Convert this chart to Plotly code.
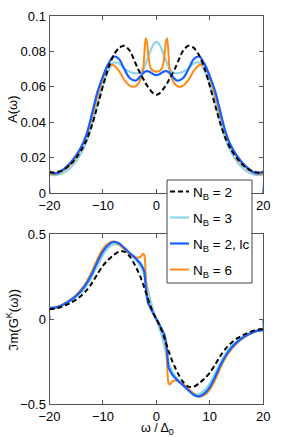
import plotly.graph_objects as go

# ---------------- data ----------------
omega = [-20, -19, -18, -17, -16, -15, -14, -13, -12, -11, -10, -9, -8, -7, -6, -5, -4,
         -3.5, -3, -2.5, -2.25, -2, -1.75, -1.5, -1.25, -1, -0.5, 0,
         0.5, 1, 1.25, 1.5, 1.75, 2, 2.25, 2.5, 3, 3.5,
         4, 5, 6, 7, 8, 9, 10, 11, 12, 13, 14, 15, 16, 17, 18, 19, 20]

omega_lc = [-20, -19.97, -19, -18, -17, -16, -15, -14, -13, -12, -11, -10, -9, -8, -7, -6, -5, -4,
            -3.5, -3, -2.5, -2.25, -2, -1.75, -1.5, -1.25, -1, -0.5, 0,
            0.5, 1, 1.25, 1.5, 1.75, 2, 2.25, 2.5, 3, 3.5,
            4, 5, 6, 7, 8, 9, 10, 11, 12, 13, 14, 15, 16, 17, 18, 19, 19.97, 20]

# spectral function A(omega)
A_nb2 = [0.0118, 0.0118, 0.0125, 0.0140, 0.0165, 0.0200, 0.0245, 0.0305, 0.0390, 0.0495, 0.0605,
         0.0705, 0.0778, 0.0820, 0.0832, 0.0805, 0.0740, 0.0705, 0.0675, 0.0648, 0.0634, 0.0620,
         0.0608, 0.0597, 0.0587, 0.0577, 0.0562, 0.0556,
         0.0562, 0.0577, 0.0587, 0.0597, 0.0608, 0.0620, 0.0634, 0.0648, 0.0675, 0.0705, 0.0740,
         0.0805, 0.0832, 0.0820, 0.0778, 0.0705, 0.0605, 0.0495, 0.0390, 0.0305, 0.0245, 0.0200,
         0.0165, 0.0140, 0.0125, 0.0118, 0.0118]
A_nb3 = [0.0105, 0.0102, 0.0108, 0.0122, 0.0147, 0.0182, 0.0230, 0.0297, 0.0395, 0.0510, 0.0612,
         0.0690, 0.0738, 0.0732, 0.0705, 0.0686, 0.0677, 0.0677, 0.0685, 0.0702, 0.0715, 0.0732,
         0.0752, 0.0772, 0.0792, 0.0812, 0.0843, 0.0855,
         0.0843, 0.0812, 0.0792, 0.0772, 0.0752, 0.0732, 0.0715, 0.0702, 0.0685, 0.0677, 0.0677,
         0.0686, 0.0705, 0.0732, 0.0738, 0.0690, 0.0612, 0.0510, 0.0395, 0.0297, 0.0230, 0.0182,
         0.0147, 0.0122, 0.0108, 0.0102, 0.0105]
A_lc = [0.0, 0.0120, 0.0112, 0.0122, 0.0145, 0.0175, 0.0215, 0.0265, 0.0340, 0.0455, 0.0575, 0.0660,
        0.0730, 0.0772, 0.0757, 0.0700, 0.0650, 0.0635, 0.0643, 0.0660, 0.0677, 0.0683, 0.0688,
        0.0689, 0.0688, 0.0685, 0.0680, 0.0670, 0.0667,
        0.0670, 0.0680, 0.0685, 0.0688, 0.0689, 0.0688, 0.0683, 0.0677, 0.0660, 0.0643, 0.0635,
        0.0650, 0.0700, 0.0757, 0.0772, 0.0730, 0.0660, 0.0575, 0.0455, 0.0340, 0.0265, 0.0215,
        0.0175, 0.0145, 0.0122, 0.0112, 0.0120, 0.0]
A_nb6 = [0.0112, 0.0108, 0.0118, 0.0138, 0.0165, 0.0205, 0.0258, 0.0330, 0.0435, 0.0550, 0.0648,
         0.0722, 0.0722, 0.0690, 0.0640, 0.0607, 0.0602, 0.0615, 0.0640, 0.0690, 0.0790, 0.0874,
         0.0850, 0.0775, 0.0725, 0.0703, 0.0689, 0.0686,
         0.0689, 0.0703, 0.0725, 0.0775, 0.0850, 0.0874, 0.0790, 0.0690, 0.0640, 0.0615, 0.0602,
         0.0607, 0.0640, 0.0690, 0.0722, 0.0722, 0.0648, 0.0550, 0.0435, 0.0330, 0.0258, 0.0205,
         0.0165, 0.0138, 0.0118, 0.0108, 0.0112]

# Keldysh component Im G^K(omega)
G_nb2 = [0.058, 0.062, 0.070, 0.082, 0.097, 0.115, 0.140, 0.172, 0.215, 0.268, 0.315, 0.350, 0.378,
         0.398, 0.398, 0.370, 0.318, 0.285, 0.250, 0.207, 0.185, 0.160, 0.138, 0.113, 0.090, 0.068,
         0.030, 0.0,
         -0.030, -0.068, -0.090, -0.113, -0.138, -0.160, -0.185, -0.207, -0.250, -0.285, -0.318,
         -0.370, -0.398, -0.398, -0.378, -0.350, -0.315, -0.268, -0.215, -0.172, -0.140, -0.115,
         -0.097, -0.082, -0.070, -0.062, -0.058]
G_nb3 = [0.062, 0.066, 0.075, 0.090, 0.108, 0.131, 0.161, 0.202, 0.255, 0.318, 0.378, 0.420, 0.440,
         0.438, 0.415, 0.385, 0.355, 0.335, 0.312, 0.280, 0.255, 0.225, 0.193, 0.160, 0.128, 0.098,
         0.045, 0.0,
         -0.045, -0.098, -0.128, -0.160, -0.193, -0.225, -0.255, -0.280, -0.312, -0.335, -0.355,
         -0.385, -0.415, -0.438, -0.440, -0.420, -0.378, -0.318, -0.255, -0.202, -0.161, -0.131,
         -0.108, -0.090, -0.075, -0.066, -0.062]
G_lc = [0.0, 0.064, 0.068, 0.078, 0.094, 0.113, 0.138, 0.170, 0.214, 0.270, 0.340, 0.400, 0.437,
        0.455, 0.447, 0.420, 0.390, 0.362, 0.346, 0.328, 0.300, 0.280, 0.188, 0.125, 0.091, 0.075,
        0.058, 0.028, 0.0,
        -0.028, -0.058, -0.075, -0.091, -0.125, -0.188, -0.280, -0.300, -0.328, -0.346, -0.362,
        -0.390, -0.420, -0.447, -0.455, -0.437, -0.400, -0.340, -0.270, -0.214, -0.170, -0.138,
        -0.113, -0.094, -0.078, -0.068, -0.064, 0.0]
G_nb6 = [0.063, 0.068, 0.079, 0.096, 0.117, 0.143, 0.178, 0.224, 0.285, 0.357, 0.415, 0.447, 0.457,
         0.440, 0.410, 0.383, 0.365, 0.362, 0.367, 0.385, 0.375, 0.260, 0.150, 0.100, 0.080, 0.062,
         0.030, 0.0,
         -0.030, -0.062, -0.080, -0.100, -0.150, -0.260, -0.375, -0.385, -0.367, -0.362, -0.365,
         -0.383, -0.410, -0.440, -0.457, -0.447, -0.415, -0.357, -0.285, -0.224, -0.178, -0.143,
         -0.117, -0.096, -0.079, -0.068, -0.063]

labels = ["N<sub>B</sub> = 2", "N<sub>B</sub> = 3", "N<sub>B</sub> = 2, lc", "N<sub>B</sub> = 6"]
x_ticks = [-20, -10, 0, 10, 20]
A_ticks = [0, 0.02, 0.04, 0.06, 0.08, 0.1]
G_ticks = [-0.5, 0, 0.5]

# ---------------- style ----------------
C_BLACK = "#000000"
C_LIGHT = "#8fd4ea"
C_BLUE = "#1660ff"
C_ORANGE = "#ff8a16"
FONT = "Liberation Sans, Arial, Helvetica, sans-serif"
W, H = 291, 437
DASH = "5px,3px"

fig = go.Figure()

# (label idx, x, A, G, color, dash, width) in drawing order
series = [
    (1, omega, A_nb3, G_nb3, C_LIGHT, "solid", 2.2),
    (3, omega, A_nb6, G_nb6, C_ORANGE, "solid", 2.0),
    (2, omega_lc, A_lc, G_lc, C_BLUE, "solid", 2.2),
    (0, omega, A_nb2, G_nb2, C_BLACK, DASH, 2.0),
]
for idx, xs, ya, yg, col, dash, wd in series:
    ln = dict(color=col, width=wd, dash=dash, shape="spline", smoothing=0.8)
    fig.add_trace(go.Scatter(x=xs, y=ya, mode="lines", name=labels[idx], line=ln,
                             xaxis="x", yaxis="y", showlegend=False))
    fig.add_trace(go.Scatter(x=xs, y=yg, mode="lines", name=labels[idx], line=ln,
                             xaxis="x2", yaxis="y2", showlegend=False))

x0, x1 = 49.5 / W, 263.3 / W
axis_common = dict(showgrid=False, zeroline=False, showline=True, linecolor="#555555", linewidth=1,
                   mirror="ticks", ticks="inside", ticklen=4, tickcolor="#555555",
                   tickfont=dict(family=FONT, size=13, color="#000000"))

fig.update_layout(
    width=W, height=H,
    margin=dict(l=0, r=0, t=0, b=0, autoexpand=False),
    paper_bgcolor="white", plot_bgcolor="white",
    font=dict(family=FONT, size=13, color="#000000"),
    xaxis=dict(domain=[x0, x1], range=[-20, 20], tickvals=x_ticks, anchor="y", **axis_common),
    yaxis=dict(domain=[1 - 193.3 / H, 1 - 16 / H], range=[0, 0.1], tickvals=A_ticks, anchor="x",
               **axis_common),
    xaxis2=dict(domain=[x0, x1], range=[-20, 20], tickvals=x_ticks, anchor="y2", **axis_common),
    yaxis2=dict(domain=[1 - 404 / H, 1 - 234.3 / H], range=[-0.5, 0.5], tickvals=G_ticks, anchor="x2",
                **axis_common),
    showlegend=False,
)

# ---- legend box (drawn manually to match the compact original legend) ----
def px(x):
    return x / W


def py(y):
    return 1 - y / H


fig.add_shape(type="rect", xref="paper", yref="paper", x0=px(167), x1=px(252), y0=py(283), y1=py(180),
              fillcolor="white", line=dict(color="#444444", width=1), layer="above")
legend_rows = [(0, C_BLACK, DASH, 2.0), (1, C_LIGHT, "solid", 2.2), (2, C_BLUE, "solid", 2.2),
               (3, C_ORANGE, "solid", 2.0)]
row_y = [191.5, 217.5, 243.5, 269.5]
for (idx, col, dash, wd), yy in zip(legend_rows, row_y):
    fig.add_shape(type="line", xref="paper", yref="paper", x0=px(170), x1=px(189), y0=py(yy), y1=py(yy),
                  line=dict(color=col, width=wd, dash=dash), layer="above")
    fig.add_annotation(text=labels[idx], xref="paper", yref="paper", x=px(191), y=py(yy + 1.5),
                       xanchor="left", yanchor="middle", showarrow=False,
                       font=dict(family=FONT, size=13.5, color="#000000"))

fig.add_annotation(text="A(ω)", xref="paper", yref="paper", x=px(12), y=py(110),
                   xanchor="center", yanchor="middle",
                   textangle=-90, showarrow=False, font=dict(family=FONT, size=13))
fig.add_annotation(text="ℑm(G<sup>K</sup>(ω))", xref="paper", yref="paper", x=px(12.5), y=py(320),
                   xanchor="center", yanchor="middle",
                   textangle=-90, showarrow=False, font=dict(family=FONT, size=13))
fig.add_annotation(text="ω / Δ<sub>0</sub>", xref="paper", yref="paper", x=px(157), y=py(418.5),
                   xanchor="center", yanchor="top",
                   showarrow=False, font=dict(family=FONT, size=12.5))

fig.write_html("out.html", config={"displayModeBar": False},
               post_script="document.body.style.margin='0px';")
